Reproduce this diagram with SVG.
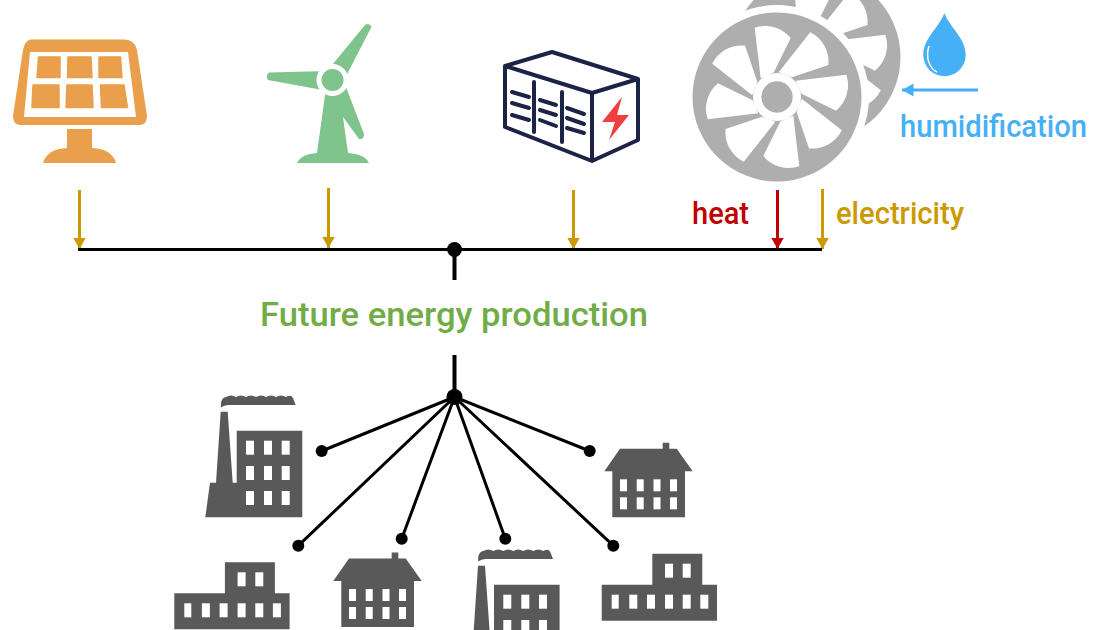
<svg xmlns="http://www.w3.org/2000/svg" xmlns:xlink="http://www.w3.org/1999/xlink" width="1109" height="630" viewBox="0 0 1109 630">
<style>
.t{font-family:"Roboto","Liberation Sans",sans-serif;font-size:31px;font-weight:500}
.arr{fill:none;stroke-width:3}
.bus{stroke:#000;stroke-width:3;fill:none}
.spoke{stroke:#000;stroke-width:3;fill:none}
.b{fill:#595959}
.w{fill:#fff}
.nv{stroke:#1b2447;fill:none;stroke-width:4;stroke-linejoin:round;stroke-linecap:round}
</style>
<defs>
<marker id="ag" markerUnits="userSpaceOnUse" markerWidth="12" markerHeight="13" refX="11.500" refY="6.500" orient="auto"><path d="M0 0L11.500 6.500L0 13Z" fill="#CC9900"/></marker>
<marker id="ar" markerUnits="userSpaceOnUse" markerWidth="12" markerHeight="13" refX="11.500" refY="6.500" orient="auto"><path d="M0 0L11.500 6.500L0 13Z" fill="#C00000"/></marker>
<marker id="ab" markerUnits="userSpaceOnUse" markerWidth="12" markerHeight="13" refX="11.500" refY="6.500" orient="auto"><path d="M0 0L11.500 6.500L0 13Z" fill="#45B0F5"/></marker>
<path id="win" class="w" d="M-22.300-69.300A33 33 0 0 1 13.700-59L-3.300-24.500L-16.300-18.700Z"/>
<g id="fan">
<circle r="84.5" fill="#AEAEAE"/>
<circle r="24" fill="#fff"/>
<use xlink:href="#win"/><use xlink:href="#win" transform="rotate(45)"/><use xlink:href="#win" transform="rotate(90)"/><use xlink:href="#win" transform="rotate(135)"/><use xlink:href="#win" transform="rotate(180)"/><use xlink:href="#win" transform="rotate(225)"/><use xlink:href="#win" transform="rotate(270)"/><use xlink:href="#win" transform="rotate(315)"/>
<circle r="15.700" fill="#AEAEAE"/>
</g>
<g id="factory">
<path class="b" d="M221 407.500Q220 398 226 397Q231 394 236 397Q241 394 246 397Q251 394 256 397Q261 394 266 397Q271 394 276 397Q281 394 286 397Q291 394 293 398L295.700 405H228Q224 405 221 407.500Z"/>
<path class="b" d="M205.300 517.300L210 482.700H216L220.700 411.700H227.700L232.700 482.700H236.700V430.700H302.300V517.300Z"/>
<g class="w"><rect x="246" y="440.700" width="8" height="14"/><rect x="264" y="440.700" width="8" height="14"/><rect x="281.700" y="440.700" width="8" height="14"/><rect x="246" y="466" width="8" height="14"/><rect x="264" y="466" width="8" height="14"/><rect x="281.700" y="466" width="8" height="14"/><rect x="246" y="491" width="8" height="14"/><rect x="264" y="491" width="8" height="14"/><rect x="281.700" y="491" width="8" height="14"/></g>
</g>
<g id="house">
<path class="b" d="M662.700 448.700V442.700H669.300V448.700H676.700L692.700 471.300H685V517.300H612.300V471.300H604.300L620 448.700Z"/>
<g class="w"><rect x="620" y="479.300" width="7" height="12"/><rect x="636.700" y="479.300" width="7" height="12"/><rect x="653.500" y="479.300" width="7" height="12"/><rect x="670" y="479.300" width="7" height="12"/><rect x="620" y="497.300" width="7" height="12"/><rect x="636.700" y="497.300" width="7" height="12"/><rect x="653.500" y="497.300" width="7" height="12"/><rect x="670" y="497.300" width="7" height="12"/></g>
</g>
<g id="lowrise">
<path class="b" d="M601.700 584.700H652.300V553.700H702.300V584.700H717V620.700H601.700Z"/>
<g class="w"><rect x="665" y="563.700" width="8" height="14"/><rect x="682.700" y="563.700" width="8" height="14"/><rect x="611.700" y="594.700" width="7" height="14"/><rect x="629.300" y="594.700" width="8" height="14"/><rect x="647" y="594.700" width="8" height="14"/><rect x="665" y="594.700" width="8" height="14"/><rect x="682.700" y="594.700" width="8" height="14"/><rect x="700.300" y="594.700" width="8" height="14"/></g>
</g>
</defs>
<rect width="1109" height="630" fill="#fff"/>

<g id="solar">
<path fill="#E99F4B" fill-rule="evenodd" d="M31 39.500H124Q135 39.500 137 50L147 116Q147 125 139 125H21Q13 125 13 116L23 50Q25 39.500 31 39.500ZM30 52L24 117H136L128 52Z"/>
<g fill="#E99F4B" stroke="#E99F4B" stroke-width="1.500" stroke-linejoin="round"><path d="M38.500 57H60V77.500H37Z"/><path d="M68 57H91L92 77.500H67.500Z"/><path d="M99 57H120.500L122 77.500H99Z"/><path d="M33 85H59V107.500H32Z"/><path d="M67 85H92L93 107.500H66Z"/><path d="M100.500 85H124L127.500 107.500H101.500Z"/></g>
<path fill="#E99F4B" d="M67 129H92V148Q112 149 116 163H43Q47 149 67 148Z"/>
</g>

<g id="turbine" fill="#7FC48D">
<path d="M328 70L365 25Q369 22 371.500 27L344 80Z"/>
<path d="M328 71L269 72.500Q265 76 268 80L328 91Z"/>
<path d="M326 88L344 82L364 134Q364 140 359 139L343 117L348 153Q365 154 369 163H297Q301 154 317 153Z"/>
<circle cx="332.500" cy="80" r="16" fill="#fff"/>
<circle cx="332.500" cy="80" r="11"/>
</g>

<g id="battery">
<path class="nv" d="M505 66L552 52L638 79V140L592 161L505 127ZM505 66L592 93L638 79M592 93V161"/>
<path class="nv" d="M534 82V132M562 92V142M512 92L529 97M512 103L529 108M512 115L529 120M540 100L556 105M540 110L556 115M540 120L556 126M567 108L584 114M567 118L584 124M567 128L584 133"/>
<path fill="#EF4040" d="M622 97L602 122H615L609 140L629 115H617Z"/>
</g>

<g id="fans">
<use xlink:href="#fan" transform="translate(816 57)"/>
<circle cx="777" cy="97" r="92" fill="#fff"/>
<use xlink:href="#fan" transform="translate(777 97)"/>
</g>

<g id="drop">
<path fill="#45B0F5" d="M944.300 13C950 28 965.700 38 965.700 55A21.200 21.200 0 0 1 923.300 55C923.300 38 939 28 944.300 13Z"/>
<path fill="none" stroke="#fff" stroke-width="1.500" d="M929 46C925 58 930 69 937 72"/>
</g>

<g id="connectors">
<path class="arr" stroke="#CC9900" marker-end="url(#ag)" d="M79.500 190V249"/>
<path class="arr" stroke="#CC9900" marker-end="url(#ag)" d="M328.500 188V248"/>
<path class="arr" stroke="#CC9900" marker-end="url(#ag)" d="M573.500 190V249"/>
<path class="arr" stroke="#C00000" marker-end="url(#ar)" d="M777.500 190V249"/>
<path class="arr" stroke="#CC9900" marker-end="url(#ag)" d="M822.500 189V249"/>
<path class="arr" stroke="#45B0F5" marker-end="url(#ab)" d="M978 90H902"/>
<path class="bus" d="M78 249.500H822"/>
<path d="M454.500 249V280M454.500 355V397" stroke="#000" stroke-width="4" fill="none"/>
<circle cx="454.500" cy="249.500" r="7.500"/>
<circle cx="454.500" cy="397" r="8"/>
<path class="spoke" d="M454.500 397L321.700 451M454.500 397L298.300 545.700M454.500 397L401.700 538.700M454.500 397L505.300 538.700M454.500 397L613.300 545.700M454.500 397L589.700 451"/>
<circle cx="321.700" cy="451" r="6"/><circle cx="298.300" cy="545.700" r="6"/><circle cx="401.700" cy="538.700" r="6"/><circle cx="505.300" cy="538.700" r="6"/><circle cx="613.300" cy="545.700" r="6"/><circle cx="589.700" cy="451" r="6"/>
</g>

<g id="factory1"><use xlink:href="#factory"/></g>
<g id="factory2"><use xlink:href="#factory" transform="translate(257.300 154)"/></g>
<g id="house1"><use xlink:href="#house"/></g>
<g id="house2"><use xlink:href="#house" transform="translate(-271 109.700)"/></g>
<g id="lowrise1"><use xlink:href="#lowrise"/></g>
<g id="lowrise2"><use xlink:href="#lowrise" transform="translate(-427.400 8.600)"/></g>

<g id="labels">
<text class="t" x="900" y="137" fill="#45B0F5" textLength="187" lengthAdjust="spacingAndGlyphs">humidification</text>
<text class="t" x="692" y="223.500" fill="#C00000" textLength="57" lengthAdjust="spacingAndGlyphs">heat</text>
<text class="t" x="836" y="223.500" fill="#CC9900" textLength="128" lengthAdjust="spacingAndGlyphs">electricity</text>
<text class="t" x="260" y="326" fill="#70AD47" style="font-size:34px" textLength="388" lengthAdjust="spacingAndGlyphs">Future energy production</text>
</g>
</svg>
